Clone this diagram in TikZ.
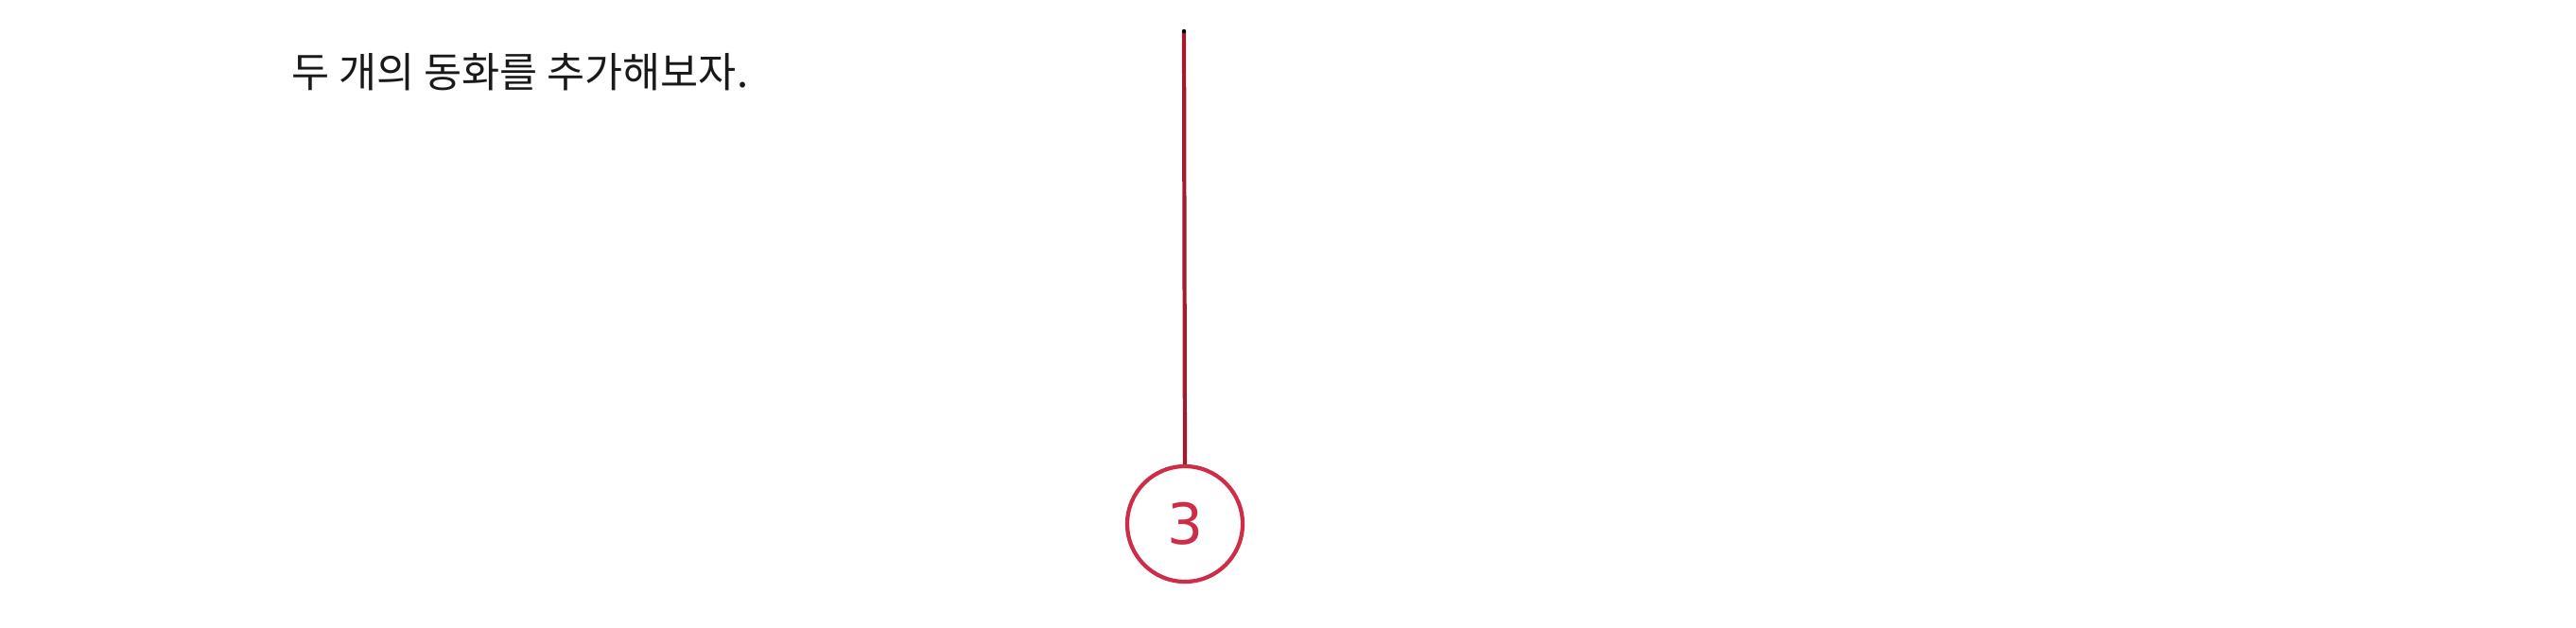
\documentclass[tikz,border=0pt]{standalone}
\usepackage{fontspec}
\usepackage{tikz}
\usetikzlibrary{positioning,calc}
\newfontfamily\krfont{Noto Sans CJK KR}
\newfontfamily\handfont{DejaVu Sans}
\definecolor{coinred}{RGB}{205,45,70}
\definecolor{stringred}{RGB}{165,25,45}
\definecolor{textdark}{RGB}{25,25,25}
\tikzset{
  caption text/.style={
    anchor=west,
    inner sep=0pt,
    text=textdark,
    font=\krfont\fontsize{12.4}{15}\selectfont,
  },
  coin circle/.style={
    circle,
    draw=coinred,
    line width=1.2pt,
    minimum size=1.22cm,
    inner sep=0pt,
    text=coinred,
    font=\handfont\fontsize{17}{19}\selectfont,
  },
  string line/.style={
    draw=stringred,
    line width=1.2pt,
  },
}
\begin{document}
\begin{tikzpicture}[x=1cm,y=1cm]
  \useasboundingbox[fill=white] (0,0) rectangle (27.24,-6.63);
  \node[caption text] (caption) at (3.08,-0.76) {두 개의 동화를 추가해보자.};
  \node[coin circle] (coin) at (12.53,-5.54) {3};
  \coordinate (pin) at (12.52,-0.33);
  \draw[string line] (pin) -- (coin.north);
  \fill[black] (pin) circle (0.022);
\end{tikzpicture}
\end{document}
